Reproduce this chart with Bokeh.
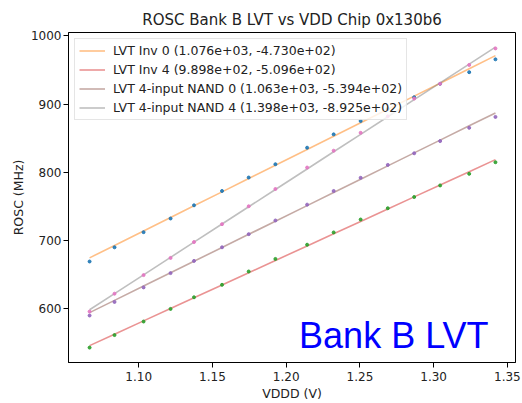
from bokeh.plotting import figure
from bokeh.models import Label, Legend, LegendItem, Title, FixedTicker, Range1d
from bokeh.embed import file_html
from bokeh.resources import INLINE

# Supply voltage sweep (V)
vddd = [1.0667, 1.0836, 1.1033, 1.1216, 1.1375, 1.1565, 1.1746, 1.1927,
        1.2142, 1.2322, 1.2505, 1.2689, 1.2868, 1.3044, 1.3241, 1.3419]

# Measured ring-oscillator frequencies (MHz)
inv0 = [669.4, 690.2, 712.4, 732.4, 751.7, 772.7, 792.4, 811.9,
        836.1, 855.6, 875.3, 893.0, 910.0, 929.7, 946.7, 965.5]
inv4 = [543.3, 561.7, 581.5, 600.0, 617.0, 635.3, 654.8, 673.2,
        694.0, 712.0, 730.9, 747.4, 763.9, 780.8, 797.8, 814.8]
nand0 = [590.3, 610.2, 631.5, 652.4, 670.3, 690.2, 709.5, 729.5,
         752.7, 772.7, 792.0, 810.9, 827.9, 845.8, 865.2, 881.2]
nand4 = [596.1, 622.3, 649.5, 674.7, 697.9, 724.1, 750.3, 775.6,
         807.0, 831.7, 857.9, 882.0, 908.0, 929.7, 957.3, 981.5]

# Linear fit coefficients (slope, intercept)
names = ["LVT Inv 0", "LVT Inv 4", "LVT 4-input NAND 0", "LVT 4-input NAND 4"]
slopes = [1.076e3, 9.898e2, 1.063e3, 1.398e3]
intercepts = [-4.730e2, -5.096e2, -5.394e2, -8.925e2]

x_ticks = [1.10, 1.15, 1.20, 1.25, 1.30, 1.35]
y_ticks = [600, 700, 800, 900, 1000]

series = [inv0, inv4, nand0, nand4]
dot_colors = ["#1f77b4", "#2ca02c", "#9467bd", "#e377c2"]
fit_colors = ["#ff7f0e", "#d62728", "#8c564b", "#7f7f7f"]

FONT = "DejaVu Sans"

p = figure(width=522, height=403, output_backend="svg", toolbar_location=None,
           x_range=Range1d(1.0524, 1.3555), y_range=Range1d(521.5, 1004.8),
           min_border_left=68, min_border_right=7, min_border_top=32,
           min_border_bottom=39)
p.title = None
p.add_layout(Title(text="ROSC Bank B LVT vs VDD Chip 0x130b6", align="center",
                   text_font=FONT, text_font_size="15px", text_font_style="normal",
                   text_color="#222222", standoff=7), "above")

p.grid.visible = False
p.outline_line_color = "black"
p.outline_line_width = 1
p.background_fill_color = "white"
p.border_fill_color = "white"

for ax in (p.xaxis, p.yaxis):
    ax.minor_tick_line_color = None
    ax.major_tick_in = 0
    ax.major_tick_out = 5
    ax.major_label_text_font = FONT
    ax.major_label_text_font_size = "12px"
    ax.major_label_text_color = "#222222"
    ax.axis_label_text_font = FONT
    ax.axis_label_text_font_size = "12.5px"
    ax.axis_label_text_font_style = "normal"
    ax.axis_label_text_color = "#222222"
    ax.axis_line_color = "black"

p.xaxis.ticker = FixedTicker(ticks=x_ticks)
p.yaxis.ticker = FixedTicker(ticks=y_ticks)
p.xaxis.major_label_overrides = {t: f"{t:.2f}" for t in x_ticks}
p.xaxis.axis_label = "VDDD (V)"
p.yaxis.axis_label = "ROSC (MHz)"
p.xaxis.major_label_standoff = 4
p.yaxis.major_label_standoff = 2
p.xaxis.axis_label_standoff = 2
p.yaxis.axis_label_standoff = 2

items = []
for name, a, b, ys, dc, fc in zip(names, slopes, intercepts, series, dot_colors, fit_colors):
    fit = [a * x + b for x in vddd]
    r = p.line(vddd, fit, line_color=fc, line_alpha=0.5, line_width=1.6)
    p.scatter(vddd, ys, size=3, color=dc, alpha=0.9)
    items.append(LegendItem(label=f"{name} ({a:.3e}, {b:.3e})", renderers=[r]))

legend = Legend(items=items, location="top_left",
                label_text_font=FONT, label_text_font_size="12.5px",
                label_text_color="#222222",
                glyph_width=26, glyph_height=15, label_standoff=8,
                spacing=4, padding=4, margin=6,
                border_line_color="#cccccc", border_line_width=1,
                background_fill_alpha=0.8)
p.add_layout(legend)

p.add_layout(Label(x=1.3372, y=560.7, text="Bank B LVT", text_align="right",
                   text_baseline="alphabetic", text_color="blue",
                   text_font="Liberation Sans", text_font_size="36px"))

open("out.html", "w").write(file_html(p, INLINE))
